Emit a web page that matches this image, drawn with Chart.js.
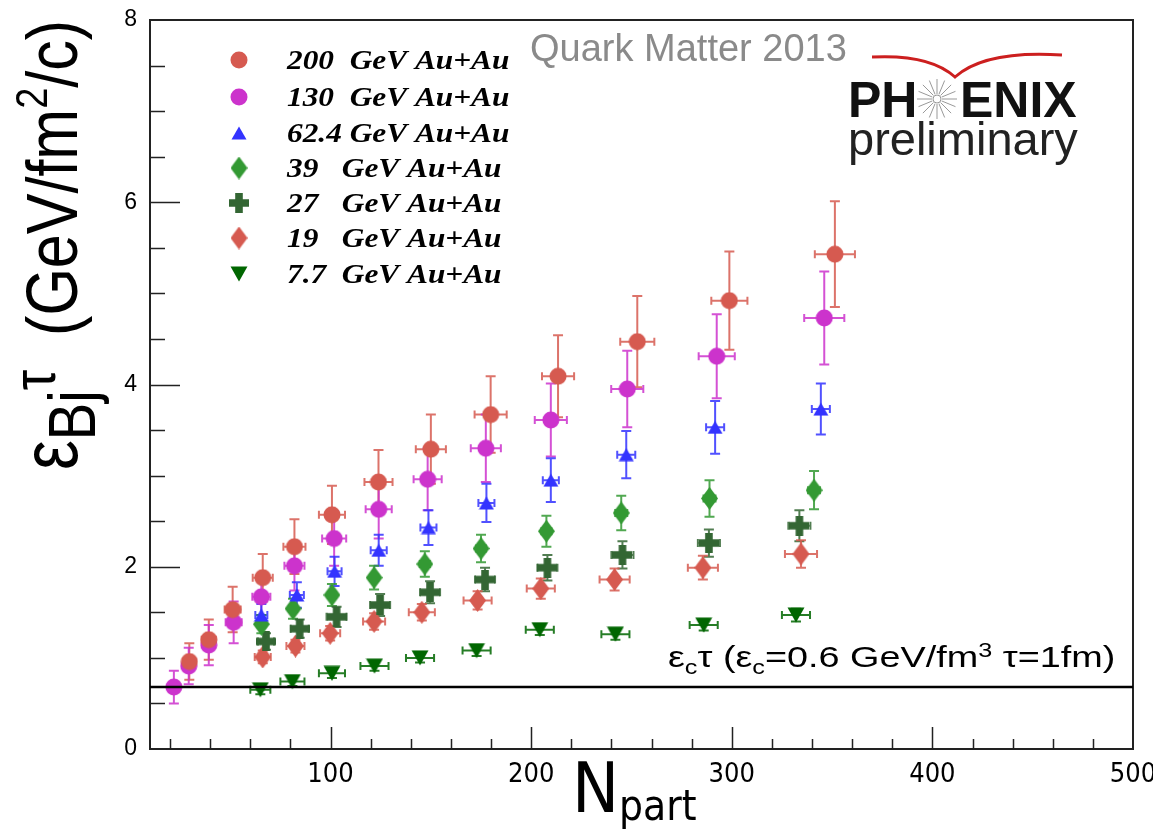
<!DOCTYPE html>
<html>
<head>
<meta charset="utf-8">
<script src="https://cdn.jsdelivr.net/npm/chart.js@4.4.0/dist/chart.umd.min.js"></script>
<style>
html, body { margin: 0; padding: 0; background: #fff; }
#wrap { width: 1153px; height: 832px; }
</style>
</head>
<body>
<div id="wrap"><canvas id="myChart" width="1153" height="832"></canvas></div>
<script>
// legend text, one per energy
const legendLabels = ['200  GeV Au+Au', '130  GeV Au+Au', '62.4 GeV Au+Au', '39   GeV Au+Au',
                      '27   GeV Au+Au', '19   GeV Au+Au', '7.7  GeV Au+Au'];

// 200 GeV
const npart200 = [29.6, 39.3, 51.2, 66.2, 82.0, 100.7, 123.9, 150.0, 179.8, 213.4, 252.9, 298.8, 351.4];
const ebj200   = [0.96, 1.20, 1.53, 1.88, 2.22, 2.57, 2.93, 3.29, 3.67, 4.09, 4.47, 4.92, 5.43];
const err200   = [0.20, 0.22, 0.25, 0.26, 0.30, 0.32, 0.35, 0.38, 0.42, 0.45, 0.50, 0.54, 0.58];
const xerr200  = [3, 3.5, 4, 5, 5.5, 6.5, 7, 7.5, 8, 8, 8.5, 9, 10];
// 130 GeV
const npart130 = [21.9, 29.3, 39.3, 51.7, 65.5, 82.0, 101.8, 124.0, 148.4, 177.4, 209.8, 247.9, 292.5, 346.1];
const ebj130   = [0.68, 0.91, 1.14, 1.39, 1.67, 2.01, 2.31, 2.63, 2.96, 3.30, 3.61, 3.95, 4.31, 4.73];
const err130   = [0.18, 0.20, 0.22, 0.23, 0.25, 0.27, 0.30, 0.32, 0.34, 0.37, 0.40, 0.42, 0.46, 0.51];
const xerr130  = [2, 2.5, 3, 4, 4.5, 5, 6, 6.5, 7, 7.5, 8, 8, 9, 10];
// 62.4 GeV
const npart62 = [65.5, 83.2, 102.0, 124.0, 148.8, 177.7, 209.8, 247.4, 291.7, 344.4];
const ebj62   = [1.47, 1.69, 1.95, 2.18, 2.43, 2.70, 2.95, 3.23, 3.53, 3.73];
const err62   = [0.12, 0.14, 0.16, 0.17, 0.19, 0.21, 0.24, 0.26, 0.29, 0.28];
const xerr62  = [3, 3.5, 3.5, 4, 4, 4, 4, 4.5, 4.5, 4.5];
// 39 GeV
const npart39 = [65.5, 81.3, 100.7, 121.7, 147.0, 175.0, 207.6, 244.9, 288.9, 341.0];
const ebj39   = [1.37, 1.54, 1.69, 1.88, 2.03, 2.20, 2.39, 2.59, 2.75, 2.84];
const err39   = [0.10, 0.11, 0.12, 0.13, 0.14, 0.15, 0.17, 0.19, 0.20, 0.21];
const xerr39  = [2, 2, 2, 2, 2.5, 2.5, 2.5, 3, 3, 3];
// 27 GeV
const npart27 = [67.8, 84.6, 103.0, 124.7, 149.6, 177.0, 208.1, 245.5, 288.6, 333.7];
const ebj27   = [1.18, 1.32, 1.45, 1.58, 1.72, 1.86, 1.99, 2.13, 2.26, 2.45];
const err27   = [0.09, 0.10, 0.11, 0.12, 0.12, 0.13, 0.14, 0.15, 0.15, 0.17];
const xerr27  = [4, 4.5, 5, 5, 5, 5, 5, 5.5, 5.5, 5.5];
// 19 GeV
const npart19 = [66.2, 82.5, 99.8, 121.7, 145.5, 173.3, 204.8, 241.6, 285.6, 334.5];
const ebj19   = [1.01, 1.13, 1.27, 1.40, 1.50, 1.63, 1.76, 1.86, 1.99, 2.14];
const err19   = [0.07, 0.07, 0.08, 0.09, 0.09, 0.10, 0.11, 0.12, 0.13, 0.15];
const xerr19  = [4, 4.5, 5, 5.5, 6.5, 7, 7, 7.5, 7.5, 8];
// 7.7 GeV
const npart7 = [65.0, 81.0, 100.7, 121.9, 144.6, 172.8, 204.3, 242.0, 286.0, 332.0];
const ebj7   = [0.65, 0.74, 0.83, 0.91, 1.00, 1.08, 1.31, 1.26, 1.36, 1.47];
const err7   = [0.05, 0.05, 0.05, 0.05, 0.05, 0.06, 0.06, 0.06, 0.06, 0.07];
const xerr7  = [5, 6, 6.5, 7, 7, 7, 7, 7, 7, 7];

// critical value line eps_c * tau
const critValue = 0.68;

const xTickLabels = [100, 200, 300, 400, 500];
const yTickLabels = [0, 2, 4, 6, 8];

// ---- marker images
function marker(shape, color, w, h) {
  const c = document.createElement('canvas');
  c.width = w; c.height = h;
  const g = c.getContext('2d');
  g.fillStyle = color;
  g.beginPath();
  if (shape === 'circle') {
    g.arc(w / 2, h / 2, w / 2 - 0.5, 0, Math.PI * 2);
  } else if (shape === 'tri') {
    g.moveTo(w / 2, 0.5); g.lineTo(w - 0.5, h - 0.5); g.lineTo(0.5, h - 0.5);
  } else if (shape === 'itri') {
    g.moveTo(0.5, 0.5); g.lineTo(w - 0.5, 0.5); g.lineTo(w / 2, h - 0.5);
  } else if (shape === 'diamond') {
    g.moveTo(w / 2, 0); g.lineTo(w, h / 2); g.lineTo(w / 2, h); g.lineTo(0, h / 2);
  } else if (shape === 'cross') {
    const t = w * 0.38, a = (w - t) / 2;
    g.rect(a, 0, t, h); g.rect(0, a, w, t);
  }
  g.closePath();
  g.fill();
  return c;
}

const red = '#d65a50', magenta = '#cc33cc', blue = '#3333ff', green = '#339933',
      dkgreen = '#336633', green77 = '#006600';

const series = [
  { label: legendLabels[0], n: npart200, v: ebj200, ey: err200, ex: xerr200, color: red,     img: marker('circle', red, 18, 18) },
  { label: legendLabels[1], n: npart130, v: ebj130, ey: err130, ex: xerr130, color: magenta, img: marker('circle', magenta, 18, 18) },
  { label: legendLabels[2], n: npart62,  v: ebj62,  ey: err62,  ex: xerr62,  color: blue,    img: marker('tri', blue, 16, 14) },
  { label: legendLabels[3], n: npart39,  v: ebj39,  ey: err39,  ex: xerr39,  color: green,   img: marker('diamond', green, 17, 23) },
  { label: legendLabels[4], n: npart27,  v: ebj27,  ey: err27,  ex: xerr27,  color: dkgreen, img: marker('cross', dkgreen, 20, 20) },
  { label: legendLabels[5], n: npart19,  v: ebj19,  ey: err19,  ex: xerr19,  color: red,     img: marker('diamond', red, 17, 23) },
  { label: legendLabels[6], n: npart7,   v: ebj7,   ey: err7,   ex: xerr7,   color: green77, img: marker('itri', green77, 18, 16) }
];

const datasets = series.map(s => ({
  label: s.label,
  data: s.n.map((x, i) => ({ x: x, y: s.v[i] })),
  pointStyle: s.img,
  pointRadius: 9,
  borderColor: s.color,
  backgroundColor: s.color,
  ex: s.ex,
  ey: s.ey
}));

// text with sub/superscripts, parts = [text, sizeFactor, dy]
function richText(ctx, parts, x, y, size, family) {
  let cx = x;
  parts.forEach(p => {
    ctx.font = Math.round(size * p[1]) + 'px ' + family;
    ctx.fillText(p[0], cx, y + p[2] * size);
    cx += ctx.measureText(p[0]).width;
  });
}

const errorBars = {
  id: 'errorBars',
  beforeDatasetsDraw(chart) {
    const ctx = chart.ctx, xs = chart.scales.x, ys = chart.scales.y;
    ctx.save();
    ctx.lineWidth = 2;
    chart.data.datasets.forEach(ds => {
      ctx.strokeStyle = ds.borderColor;
      ctx.globalAlpha = 0.85;
      ds.data.forEach((p, i) => {
        const px = xs.getPixelForValue(p.x), py = ys.getPixelForValue(p.y);
        const y1 = ys.getPixelForValue(p.y + ds.ey[i]), y2 = ys.getPixelForValue(p.y - ds.ey[i]);
        const x1 = xs.getPixelForValue(p.x - ds.ex[i]), x2 = xs.getPixelForValue(p.x + ds.ex[i]);
        ctx.beginPath();
        ctx.moveTo(px, y1); ctx.lineTo(px, y2);
        ctx.moveTo(px - 5, y1); ctx.lineTo(px + 5, y1);
        ctx.moveTo(px - 5, y2); ctx.lineTo(px + 5, y2);
        ctx.moveTo(x1, py); ctx.lineTo(x2, py);
        ctx.moveTo(x1, py - 4); ctx.lineTo(x1, py + 4);
        ctx.moveTo(x2, py - 4); ctx.lineTo(x2, py + 4);
        ctx.stroke();
      });
    });
    ctx.restore();
  }
};

const decorations = {
  id: 'decorations',
  afterDraw(chart) {
    const ctx = chart.ctx, a = chart.chartArea, xs = chart.scales.x, ys = chart.scales.y;
    ctx.save();
    // frame
    ctx.strokeStyle = '#222';
    ctx.lineWidth = 2;
    ctx.strokeRect(a.left, a.top, a.right - a.left, a.bottom - a.top);
    // inward ticks
    ctx.lineWidth = 1.5;
    ctx.beginPath();
    for (let v = 0.5; v < 8; v += 0.5) {
      const py = Math.round(ys.getPixelForValue(v)) + 0.5;
      const len = (v % 2 === 0) ? 30 : 15;
      ctx.moveTo(a.left, py); ctx.lineTo(a.left + len, py);
    }
    for (let v = 20; v < 500; v += 20) {
      const px = Math.round(xs.getPixelForValue(v)) + 0.5;
      const len = (v % 100 === 0) ? 22 : 10;
      ctx.moveTo(px, a.bottom); ctx.lineTo(px, a.bottom - len);
    }
    ctx.stroke();

    // critical line
    const cy = ys.getPixelForValue(critValue);
    ctx.strokeStyle = '#000';
    ctx.lineWidth = 2.5;
    ctx.beginPath();
    ctx.moveTo(a.left, cy); ctx.lineTo(a.right, cy);
    ctx.stroke();

    ctx.fillStyle = '#000';
    ctx.textBaseline = 'alphabetic';
    ctx.save();
    ctx.translate(668, cy - 20);
    ctx.scale(1.26, 1);
    richText(ctx, [['ε', 1, 0], ['c', 0.65, 0.22], ['τ (', 1, 0], ['ε', 1, 0], ['c', 0.65, 0.22],
                   ['=0.6 GeV/fm', 1, 0], ['3', 0.65, -0.35], [' τ=1fm)', 1, 0]],
             0, 0, 30, "'Liberation Sans', Arial, sans-serif");
    ctx.restore();

    // legend
    const rowY = [60, 97, 133, 168, 203, 238, 274];
    chart.data.datasets.forEach((ds, i) => {
      const img = ds.pointStyle;
      ctx.drawImage(img, 239 - img.width / 2, rowY[i] - img.height / 2);
      ctx.save();
      ctx.translate(287, rowY[i] + 9);
      ctx.scale(1.16, 1);
      ctx.font = "bold italic 27px 'Liberation Serif', 'Times New Roman', serif";
      ctx.fillStyle = '#000';
      ctx.fillText(ds.label, 0, 0);
      ctx.restore();
    });

    // Quark Matter label
    ctx.fillStyle = '#8a8a8a';
    ctx.font = "38px 'Liberation Sans', Arial, sans-serif";
    ctx.fillText('Quark Matter 2013', 530, 61);

    // PHENIX logo
    ctx.strokeStyle = '#cc1f1f';
    ctx.lineWidth = 3;
    ctx.beginPath();
    ctx.moveTo(872, 57);
    ctx.quadraticCurveTo(930, 54, 955, 77);
    ctx.quadraticCurveTo(985, 50, 1062, 55);
    ctx.stroke();
    ctx.fillStyle = '#111';
    ctx.font = "bold 50px 'Liberation Sans', Arial, sans-serif";
    ctx.fillText('PH', 848, 117);
    ctx.fillText('ENIX', 960, 117);
    ctx.strokeStyle = '#999';
    ctx.lineWidth = 1;
    ctx.beginPath();
    for (let k = 0; k < 16; k++) {
      const t = k * Math.PI / 8;
      ctx.moveTo(937 + 5 * Math.cos(t), 99 + 5 * Math.sin(t));
      ctx.lineTo(937 + 20 * Math.cos(t), 99 + 20 * Math.sin(t));
    }
    ctx.stroke();
    ctx.beginPath();
    ctx.arc(937, 99, 4, 0, Math.PI * 2);
    ctx.stroke();
    ctx.fillStyle = '#222';
    ctx.font = "47px 'Liberation Sans', Arial, sans-serif";
    ctx.fillText('preliminary', 848, 155);

    // axis titles
    ctx.fillStyle = '#000';
    ctx.save();
    ctx.translate(77, 470);
    ctx.rotate(-Math.PI / 2);
    ctx.scale(1, 1.18);
    richText(ctx, [['ε', 1.1, 0], ['Bj', 0.92, 0.25], ['τ', 0.85, -0.3], ['  (GeV/fm', 1, 0], ['2', 0.62, -0.42], ['/c)', 1, 0]],
             0, 0, 61, "'Liberation Sans', Arial, sans-serif");
    ctx.restore();

    richText(ctx, [['N', 1, 0], ['part', 0.6, 0.12]], 572, 812, 70,
             "'Liberation Sans Narrow', 'Arial Narrow', 'DejaVu Sans Condensed', sans-serif");
    ctx.restore();
  }
};

new Chart(document.getElementById('myChart').getContext('2d'), {
  type: 'scatter',
  data: { datasets: datasets },
  plugins: [errorBars, decorations],
  options: {
    responsive: false,
    animation: false,
    devicePixelRatio: 1,
    layout: { padding: { left: 0, top: 20, right: 20, bottom: 0 } },
    plugins: { legend: { display: false }, tooltip: { enabled: false } },
    scales: {
      x: {
        type: 'linear', min: 10, max: 500,
        afterBuildTicks: s => { s.ticks = xTickLabels.map(v => ({ value: v })); },
        afterFit: s => { s.height = 83; s.paddingRight = 0; s.paddingLeft = 0; },
        grid: { display: false, drawTicks: false },
        border: { display: true, color: '#222', width: 2 },
        ticks: {
          padding: 10, color: '#000', autoSkip: false, maxRotation: 0,
          font: { family: "'Liberation Sans Narrow', 'Arial Narrow', 'DejaVu Sans Condensed', sans-serif", size: 27 }
        }
      },
      y: {
        type: 'linear', min: 0, max: 8,
        afterBuildTicks: s => { s.ticks = yTickLabels.map(v => ({ value: v })); },
        afterFit: s => { s.width = 150; s.paddingTop = 0; s.paddingBottom = 0; },
        grid: { display: false, drawTicks: false },
        border: { display: true, color: '#222', width: 2 },
        ticks: {
          padding: 13, color: '#000', autoSkip: false,
          font: { family: "'Liberation Sans', Arial, sans-serif", size: 23 }
        }
      }
    }
  }
});
</script>
</body>
</html>
